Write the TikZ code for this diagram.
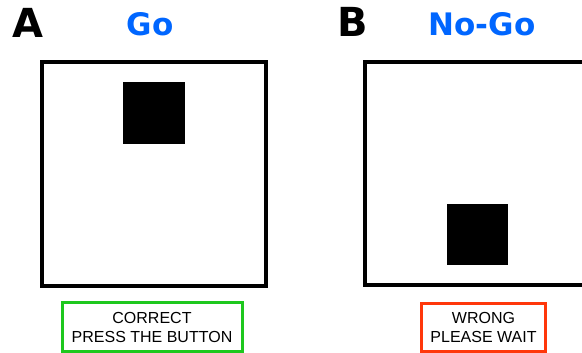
\documentclass[tikz,border=0pt]{standalone}
\usepackage{fontspec}
\setmainfont{Liberation Sans}
\newfontfamily\headfont{DejaVu Sans}
\definecolor{goblue}{RGB}{0,102,255}
\definecolor{okgreen}{RGB}{30,200,30}
\definecolor{badred}{RGB}{255,55,10}
\begin{document}
\begin{tikzpicture}[x=1pt,y=-1pt,
  panel/.style={draw=black,line width=4pt,fill=white},
  stim/.style={fill=black},
  letter/.style={inner sep=0pt,font=\headfont\bfseries\fontsize{40}{40}\selectfont},
  title/.style={inner sep=0pt,text=goblue,font=\headfont\bfseries\fontsize{31}{31}\selectfont},
  fbbox/.style={line width=3pt,fill=white},
  fbtext/.style={inner sep=0pt,font=\fontsize{16}{16}\selectfont}]
\clip (0,0) rectangle (582,353);
\fill[white] (0,0) rectangle (582,353);
% Panel A
\draw[panel] (42,62) rectangle (266,286);
\fill[stim] (123,82) rectangle (185,144);
\node[letter,anchor=base west] (la) at (12,38) {A};
\node[title,anchor=base] (tgo) at (150,36) {Go};
\draw[fbbox,draw=okgreen] (62.5,302.5) rectangle (242.5,351.5);
\node[fbtext,anchor=base] (t1) at (152,323.5) {CORRECT};
\node[fbtext,anchor=base] (t2) at (152,342) {PRESS THE BUTTON};
% Panel B
\draw[panel] (365,62) rectangle (600,285);
\fill[stim] (447,204) rectangle (508,265);
\node[letter,anchor=base west] (lb) at (337,37) {B};
\node[title,anchor=base] (tnogo) at (482,36) {No-Go};
\draw[fbbox,draw=badred] (421.5,303.5) rectangle (545.5,351.5);
\node[fbtext,anchor=base] (t3) at (483.5,323.5) {WRONG};
\node[fbtext,anchor=base] (t4) at (483.5,342) {PLEASE WAIT};
\end{tikzpicture}
\end{document}
